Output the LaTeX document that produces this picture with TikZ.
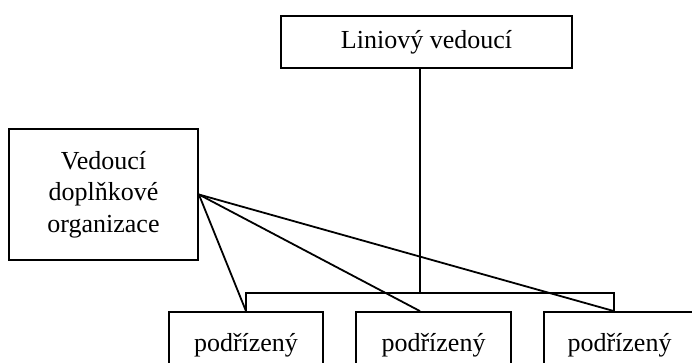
\documentclass[tikz,border=0pt]{standalone}
\usepackage{fontspec}
\setmainfont{Liberation Serif}
\begin{document}
\begin{tikzpicture}[x=1pt,y=-1pt,
  box/.style={draw, line width=1.8pt, inner sep=0pt, font=\fontsize{26}{31.5}\selectfont, align=center},
  conn/.style={line width=1.8pt}]
\useasboundingbox (0,0) rectangle (692,362);
\clip (0,0) rectangle (692,362);
\node[box, minimum width=291, minimum height=52] (top) at (426.5,42) {Liniový vedoucí};
\node[box, minimum width=189, minimum height=131] (lead) at (103.5,194.5) {Vedoucí\\doplňkové\\organizace};
\node[box, minimum width=154, minimum height=66] (b1) at (246,345) {podřízený};
\node[box, minimum width=155, minimum height=66] (b2) at (433.5,345) {podřízený};
\node[box, minimum width=151, minimum height=66] (b3) at (619.5,345) {podřízený};
\coordinate (busL) at (246,293);
\coordinate (busM) at (420,293);
\coordinate (busR) at (614,293);
\draw[conn] (busM |- top.south) -- (busM);
\draw[conn] (b1.north) -- (busL) -- (busR) -- (busR |- b3.north);
\draw[conn] (lead.east) -- (b1.north);
\draw[conn] (lead.east) -- (busM |- b2.north);
\draw[conn] (lead.east) -- (busR |- b3.north);
\end{tikzpicture}
\end{document}
